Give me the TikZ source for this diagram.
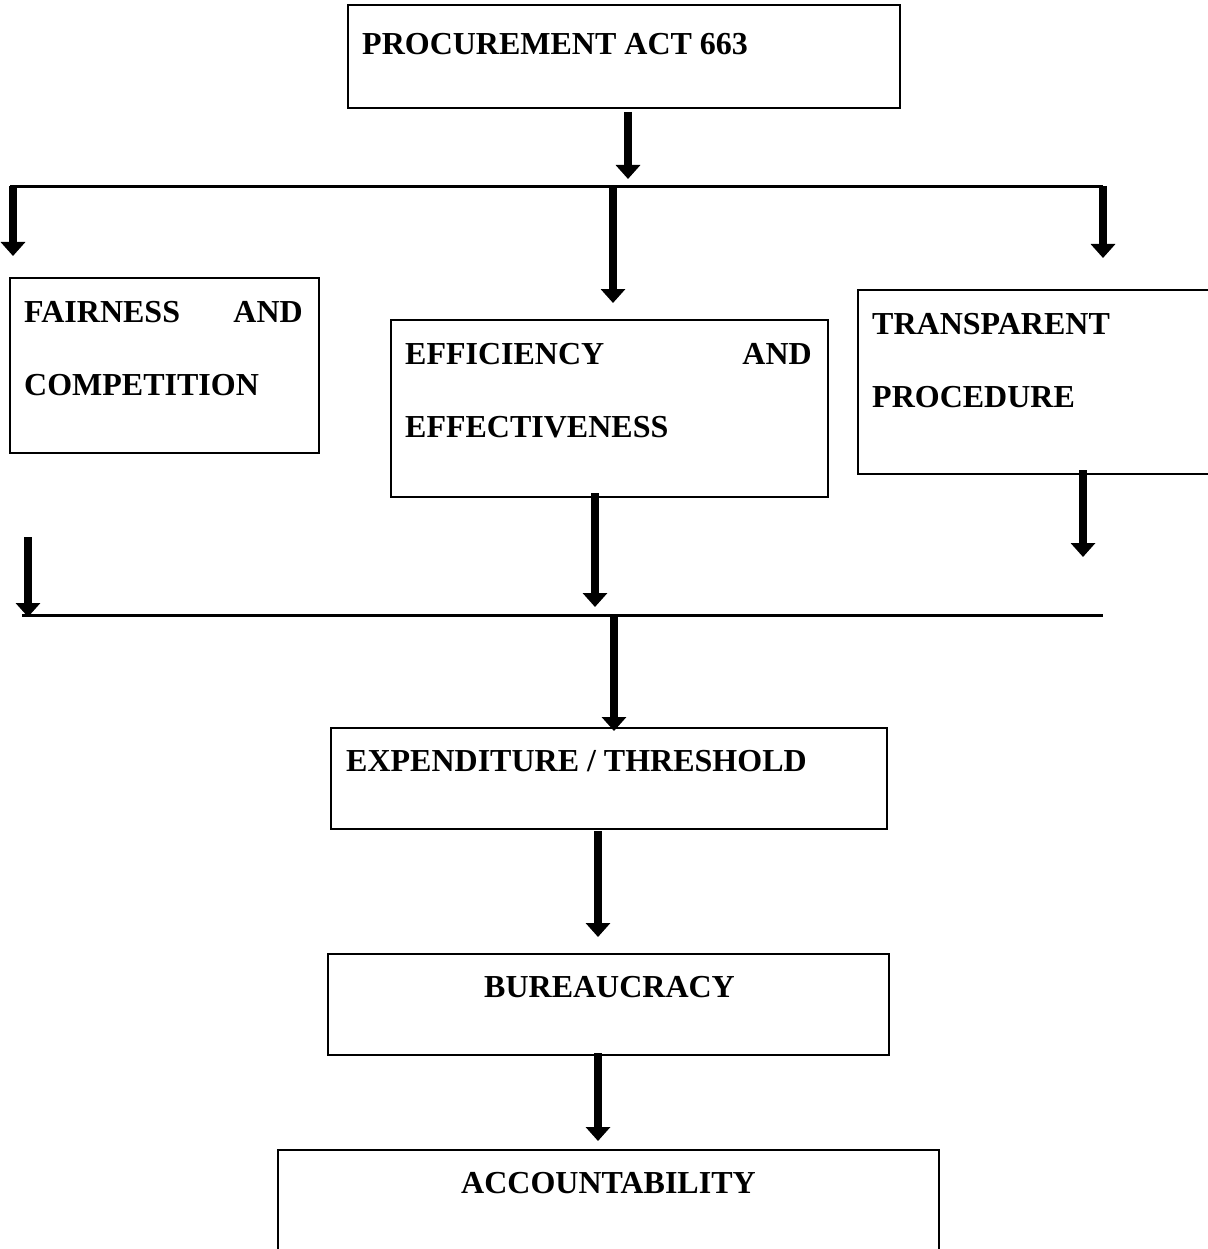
\documentclass[tikz,border=0pt]{standalone}
\usepackage{fontspec}
\setmainfont{Liberation Serif}
\usetikzlibrary{arrows.meta}
\begin{document}
\begin{tikzpicture}[x=1pt,y=-1pt,
  box/.style={draw,line width=2pt,inner sep=0pt},
  txt/.style={font=\fontsize{32}{32}\selectfont\bfseries,inner sep=0pt,anchor=base west},
  txtr/.style={txt,anchor=base east},
  bar/.style={line width=3pt},
  arr/.style={line width=8pt,-{Triangle[width=24pt,length=14pt]}}]
\useasboundingbox (0,0) rectangle (1207,1249);
% boxes
\node[box,minimum width=552pt,minimum height=103pt] (act) at (624,56.5) {};
\node[box,minimum width=309pt,minimum height=175pt] (fair) at (164.5,365.5) {};
\node[box,minimum width=437pt,minimum height=177pt] (eff) at (609.5,408.5) {};
\node[box,minimum width=556pt,minimum height=101pt] (exp) at (609,778.5) {};
\node[box,minimum width=561pt,minimum height=101pt] (bur) at (608.5,1004.5) {};
\draw[line width=2pt] (1210,290) -- (858,290) -- (858,474) -- (1210,474);
\draw[line width=2pt] (278,1252) -- (278,1150) -- (939,1150) -- (939,1252);
% texts
\node[txt] (tact) at (362,55) {PROCUREMENT ACT 663};
\node[txt] (tfair1) at (24,322) {FAIRNESS};
\node[txtr] (tfair2) at (303,322) {AND};
\node[txt] (tfair3) at (24,395) {COMPETITION};
\node[txt] (teff1) at (405,364) {EFFICIENCY};
\node[txtr] (teff2) at (812,364) {AND};
\node[txt] (teff3) at (405,437) {EFFECTIVENESS};
\node[txt] (ttr1) at (872,334) {TRANSPARENT};
\node[txt] (ttr2) at (872,407) {PROCEDURE};
\node[txt] (texp) at (346,771) {EXPENDITURE / THRESHOLD};
\node[txt] (tbur) at (484,997) {BUREAUCRACY};
\node[txt] (tacc) at (461,1193) {ACCOUNTABILITY};
% coordinates
\coordinate (h1l) at (10,187);
\coordinate (h1r) at (1103,187);
\coordinate (h2l) at (22,615);
\coordinate (h2r) at (1103,615);
\coordinate (a0s) at (628,112); \coordinate (a0e) at (628,179);
\coordinate (a1s) at (13,186); \coordinate (a1e) at (13,256);
\coordinate (a2s) at (613,186); \coordinate (a2e) at (613,303);
\coordinate (a3s) at (1103,186); \coordinate (a3e) at (1103,258);
\coordinate (b1s) at (28,537); \coordinate (b1e) at (28,617);
\coordinate (b2s) at (595,493); \coordinate (b2e) at (595,607);
\coordinate (b3s) at (1083,470); \coordinate (b3e) at (1083,557);
\coordinate (c1s) at (614,614); \coordinate (c1e) at (614,731);
\coordinate (d1s) at (598,831); \coordinate (d1e) at (598,937);
\coordinate (e1s) at (598,1053); \coordinate (e1e) at (598,1141);
% lines
\draw[bar] (h1l) -- (h1r);
\draw[bar] (h2l) -- (h2r);
% arrows
\foreach \s/\e in {a0s/a0e,a1s/a1e,a2s/a2e,a3s/a3e,b1s/b1e,b2s/b2e,b3s/b3e,c1s/c1e,d1s/d1e,e1s/e1e}
  \draw[arr] (\s) -- (\e);
\end{tikzpicture}
\end{document}
